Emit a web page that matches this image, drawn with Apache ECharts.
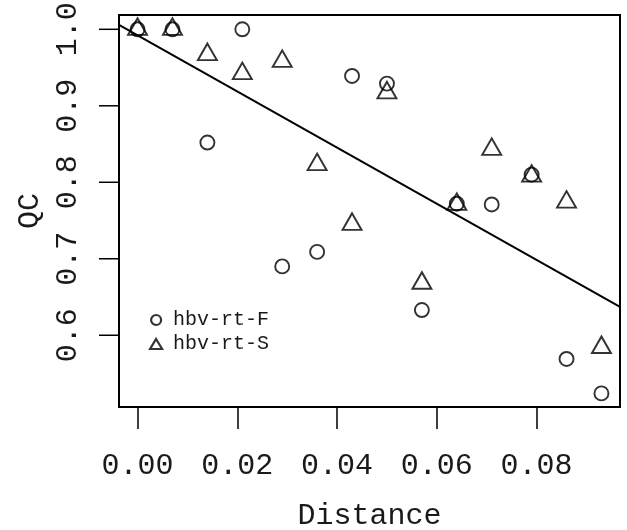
<!DOCTYPE html>
<html>
<head>
<meta charset="utf-8">
<script src="https://cdn.jsdelivr.net/npm/echarts@6/dist/echarts.min.js"></script>
<style>
  html, body { margin: 0; padding: 0; background: #fff; }
  #chart { width: 627px; height: 530px; }
</style>
</head>
<body>
<div id="chart"></div>
<script>
// data
var distance = [0, 0.007, 0.014, 0.021, 0.029, 0.036, 0.043, 0.050, 0.057, 0.064, 0.071, 0.079, 0.086, 0.093];
var qcF = [1.0, 1.0, 0.852, 1.0, 0.690, 0.709, 0.939, 0.929, 0.633, 0.772, 0.771, 0.810, 0.569, 0.524];
var qcS = [1.0, 1.0, 0.967, 0.942, 0.958, 0.823, 0.745, 0.917, 0.668, 0.771, 0.843, 0.808, 0.774, 0.584];
var xTicks = [0, 0.02, 0.04, 0.06, 0.08];
var yTicks = [0.6, 0.7, 0.8, 0.9, 1.0];
// fitted line
var lineIntercept = 0.992;
var lineSlope = -3.67;

var xMin = -0.00372, xMax = 0.09672;
var yMin = 0.5062, yMax = 1.0187;
var font = "'Courier New', 'Liberation Mono', monospace";
var ink = '#1a1a1a';

function pairs(xs, ys) {
  return xs.map(function (x, i) { return [x, ys[i]]; });
}

var chart = echarts.init(document.getElementById('chart'));
chart.setOption({
  animation: false,
  backgroundColor: '#fff',
  grid: {
    left: 119, right: 7, top: 15, bottom: 123,
    outerBoundsMode: 'none', containLabel: false,
    show: true, borderColor: '#000', borderWidth: 2, backgroundColor: 'transparent'
  },
  legend: {
    orient: 'vertical',
    left: 149, top: 310, padding: 0,
    itemWidth: 12, itemHeight: 10, itemGap: 4,
    data: [
      { name: 'hbv-rt-F', icon: 'circle' },
      { name: 'hbv-rt-S', icon: 'triangle' }
    ],
    itemStyle: { color: 'transparent', borderColor: '#000', borderWidth: 2.2 },
    textStyle: { fontFamily: font, fontSize: 20, color: ink, padding: [0, 0, 0, 6] },
    selectedMode: false
  },
  xAxis: {
    type: 'value', min: xMin, max: xMax, position: 'bottom',
    name: 'Distance', nameLocation: 'middle', nameGap: 94,
    nameTextStyle: { fontFamily: font, fontSize: 30, color: ink },
    axisLine: { show: false, onZero: false },
    splitLine: { show: false },
    axisTick: { show: true, inside: false, customValues: xTicks, length: 22, lineStyle: { color: '#000', width: 1.5 } },
    axisLabel: {
      customValues: xTicks, margin: 44,
      fontFamily: font, fontSize: 30, color: ink,
      formatter: function (v) { return v.toFixed(2); }
    }
  },
  yAxis: {
    type: 'value', min: yMin, max: yMax, position: 'left',
    name: 'QC', nameLocation: 'middle', nameGap: 68,
    nameTextStyle: { fontFamily: font, fontSize: 30, color: ink },
    axisLine: { show: false, onZero: false },
    splitLine: { show: false },
    // the axis' own ticks kept landing inside the box, they are added as graphics below
    axisTick: { show: false },
    axisLabel: {
      customValues: yTicks, margin: 36, rotate: 90,
      fontFamily: font, fontSize: 30, color: ink,
      formatter: function (v) { return v.toFixed(1); }
    }
  },
  series: [
    {
      name: 'fit', type: 'line', symbol: 'none', silent: true,
      data: [[xMin, lineIntercept + lineSlope * xMin], [xMax, lineIntercept + lineSlope * xMax]],
      lineStyle: { color: '#000', width: 2 }
    },
    {
      name: 'hbv-rt-F', type: 'scatter', symbol: 'circle', symbolSize: 14,
      data: pairs(distance, qcF),
      itemStyle: { color: 'transparent', borderColor: '#000', borderWidth: 1.9 }
    },
    {
      name: 'hbv-rt-S', type: 'scatter', symbol: 'triangle', symbolSize: [19, 16.5],
      symbolOffset: [0, -2.75],
      data: pairs(distance, qcS),
      itemStyle: { color: 'transparent', borderColor: '#000', borderWidth: 1.9 }
    }
  ]
});

// y ticks, placed through the axis scale
var tickLines = yTicks.map(function (v) {
  var p = chart.convertToPixel({ gridIndex: 0 }, [xMin, v]);
  return {
    type: 'line', z: 100,
    shape: { x1: p[0] - 20, y1: p[1], x2: p[0], y2: p[1] },
    style: { stroke: '#000', lineWidth: 1.5 }
  };
});
chart.setOption({ graphic: tickLines });
</script>
</body>
</html>
